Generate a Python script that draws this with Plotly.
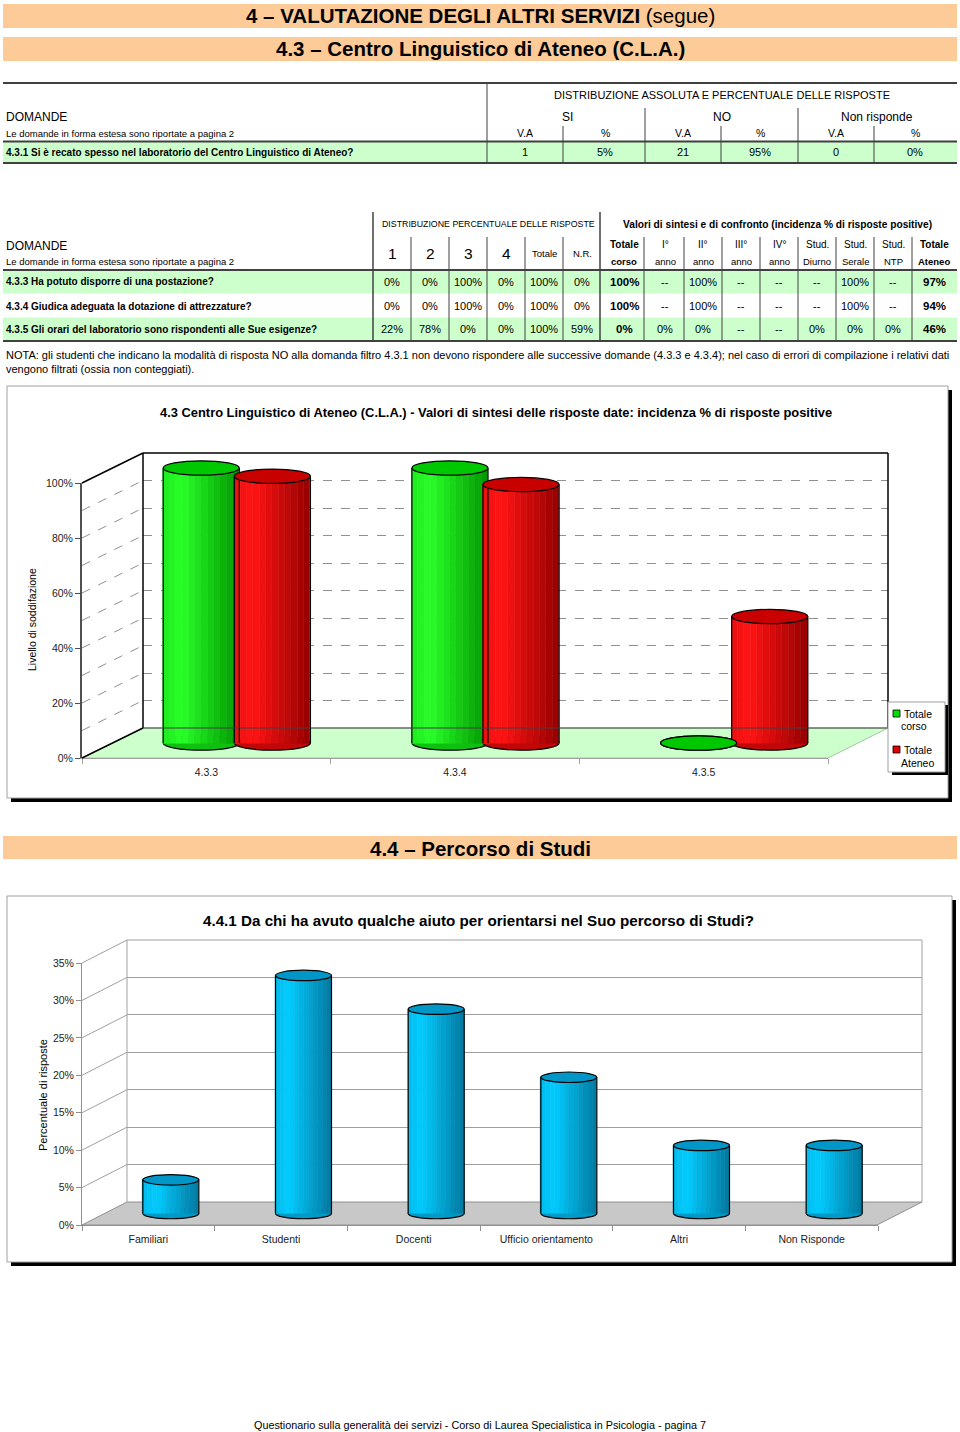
import plotly.graph_objects as go

W, H = 960, 1432
FONT = "Liberation Sans, Arial, sans-serif"

# ---------------- DATA ----------------
heading_1 = "4 – VALUTAZIONE DEGLI ALTRI SERVIZI"
heading_1_suffix = "(segue)"
heading_2 = "4.3 – Centro Linguistico di Ateneo (C.L.A.)"
heading_3 = "4.4 – Percorso di Studi"

t1_groups = ["SI", "NO", "Non risponde"]
t1_sub = ["V.A", "%", "V.A", "%", "V.A", "%"]
t1_question = "4.3.1 Si è recato spesso nel laboratorio del Centro Linguistico di Ateneo?"
t1_values = ["1", "5%", "21", "95%", "0", "0%"]

t2_questions = [
    "4.3.3 Ha potuto disporre di una postazione?",
    "4.3.4 Giudica adeguata la dotazione di attrezzature?",
    "4.3.5 Gli orari del laboratorio sono rispondenti alle Sue esigenze?",
]
t2_dist_headers = ["1", "2", "3", "4", "Totale", "N.R."]
t2_dist = [
    ["0%", "0%", "100%", "0%", "100%", "0%"],
    ["0%", "0%", "100%", "0%", "100%", "0%"],
    ["22%", "78%", "0%", "0%", "100%", "59%"],
]
t2_sint_headers = [("Totale", "corso"), ("I°", "anno"), ("II°", "anno"), ("III°", "anno"),
                   ("IV°", "anno"), ("Stud.", "Diurno"), ("Stud.", "Serale"), ("Stud.", "NTP"),
                   ("Totale", "Ateneo")]
t2_sint = [
    ["100%", "--", "100%", "--", "--", "--", "100%", "--", "97%"],
    ["100%", "--", "100%", "--", "--", "--", "100%", "--", "94%"],
    ["0%", "0%", "0%", "--", "--", "0%", "0%", "0%", "46%"],
]
note_lines = [
    "NOTA: gli studenti che indicano la modalità di risposta NO alla domanda filtro 4.3.1 non devono rispondere alle successive domande (4.3.3 e 4.3.4); nel caso di errori di compilazione i relativi dati",
    "vengono filtrati (ossia non conteggiati).",
]

c1_title = "4.3 Centro Linguistico di Ateneo (C.L.A.) - Valori di sintesi delle risposte date: incidenza % di risposte positive"
c1_ytitle = "Livello di soddifazione"
c1_categories = ["4.3.3", "4.3.4", "4.3.5"]
c1_series_names = ["Totale corso", "Totale Ateneo"]
c1_totale_corso = [100, 100, 0]
c1_totale_ateneo = [97, 94, 46]

c2_title = "4.4.1 Da chi ha avuto qualche aiuto per orientarsi nel Suo percorso di Studi?"
c2_ytitle = "Percentuale di risposte"
c2_categories = ["Familiari", "Studenti", "Docenti", "Ufficio orientamento", "Altri", "Non Risponde"]
c2_values = [4.5, 31.8, 27.3, 18.2, 9.1, 9.1]

footer = "Questionario sulla generalità dei servizi - Corso di Laurea Specialistica in Psicologia - pagina 7"

# ---------------- HELPERS ----------------
def px(x):
    return x / W


def py(y):
    return 1 - y / H


shapes = []
annotations = []


def line(x0, y0, x1, y1, color="#404040", width=1, dash=None, layer="above"):
    shapes.append(dict(type="line", xref="paper", yref="paper", x0=px(x0), y0=py(y0),
                       x1=px(x1), y1=py(y1), layer=layer,
                       line=dict(color=color, width=width, dash=dash)))


def rect(x0, y0, x1, y1, fill, lc="rgba(0,0,0,0)", lw=0, layer="below"):
    shapes.append(dict(type="rect", xref="paper", yref="paper", x0=px(x0), y0=py(y0),
                       x1=px(x1), y1=py(y1), fillcolor=fill, layer=layer,
                       line=dict(color=lc, width=lw)))


def poly(points, fill, lc="rgba(0,0,0,0)", lw=0, layer="below"):
    d = "M " + " L ".join(f"{px(x):.5f},{py(y):.5f}" for x, y in points) + " Z"
    shapes.append(dict(type="path", xref="paper", yref="paper", path=d, fillcolor=fill,
                       layer=layer, line=dict(color=lc, width=lw)))


def text(x, y, s, size=10, bold=False, anchor="center", color="black", angle=0):
    annotations.append(dict(x=px(x), y=py(y), xref="paper", yref="paper",
                            text=f"<b>{s}</b>" if bold else s, showarrow=False,
                            xanchor=anchor, yanchor="middle", textangle=angle,
                            font=dict(size=size, family=FONT, color=color)))


def lerp(c1, c2, s):
    s = max(0.0, min(1.0, s))
    return "rgb({},{},{})".format(*[int(round(a + (b - a) * s)) for a, b in zip(c1, c2)])


ORANGE = "#FCCB98"
LGREEN = "#CCFFCC"

# ---------------- HEADINGS ----------------
for (y0, y1) in [(4, 28), (37, 61), (836, 859)]:
    rect(3, y0, 957, y1, ORANGE)
text(480, 16, f"<b>{heading_1}</b> {heading_1_suffix}", size=20.5)
text(480, 49, heading_2, size=20.5, bold=True)
text(480, 848, heading_3, size=20.5, bold=True)

# ---------------- TABLE 1 ----------------
rect(3, 142, 957, 162, LGREEN)
line(3, 83, 957, 83, width=2)
line(3, 141.5, 957, 141.5, width=2)
line(3, 163, 957, 163, width=2)
line(487, 83, 487, 163)
for x in (645, 798):
    line(x, 108, x, 163)
for x in (563, 721, 874):
    line(x, 126, x, 163)
text(722, 95, "DISTRIBUZIONE ASSOLUTA E PERCENTUALE DELLE RISPOSTE", size=11)
for cx, g in zip((567, 722, 877), t1_groups):
    text(cx, 117, g, size=12)
t1_x = [525, 605, 683, 760, 836, 915]
for cx, s in zip(t1_x, t1_sub):
    text(cx, 133, s, size=10.5)
for cx, s in zip(t1_x, t1_values):
    text(cx, 152, s, size=11)
text(4, 117, "DOMANDE", size=12, anchor="left")
text(4, 133, "Le domande in forma estesa sono riportate a pagina 2", size=9.5, anchor="left")
text(4, 152, t1_question, size=10, bold=True, anchor="left")

# ---------------- TABLE 2 ----------------
row_y = [282, 306, 329]
rect(3, 271, 957, 293.5, LGREEN)
rect(3, 317.5, 957, 340, LGREEN)
line(3, 270, 957, 270, width=2)
line(3, 341, 957, 341, width=2)
line(373, 212, 373, 341, width=1.5)
line(600, 212, 600, 341, width=1.5)
for x in (411, 449, 487, 525, 563, 644, 684, 722, 760, 798, 836, 874, 912):
    line(x, 237, x, 341)
text(488, 224, "DISTRIBUZIONE PERCENTUALE DELLE RISPOSTE", size=8.8)
text(777, 224, "Valori di sintesi e di confronto (incidenza % di risposte positive)", size=10.2, bold=True)
text(4, 246, "DOMANDE", size=12, anchor="left")
text(4, 262, "Le domande in forma estesa sono riportate a pagina 2", size=9.5, anchor="left")
dist_x = [392, 430, 468, 506, 544, 582]
for i, (cx, h) in enumerate(zip(dist_x, t2_dist_headers)):
    text(cx, 253, h, size=15.5 if i < 4 else 9.5)
sint_x = [624, 665, 703, 741, 779, 817, 855, 893, 934]
for i, (cx, (a, b)) in enumerate(zip(sint_x, t2_sint_headers)):
    bold = i in (0, 8)
    text(cx, 245, a, size=10, bold=bold)
    text(cx, 262, b, size=9.5, bold=bold)
for r, yy in enumerate(row_y):
    text(4, yy, t2_questions[r], size=10, bold=True, anchor="left")
    for cx, s in zip(dist_x, t2_dist[r]):
        text(cx, yy, s, size=11)
    for i, (cx, s) in enumerate(zip(sint_x, t2_sint[r])):
        text(cx, yy, s, size=11.5 if i in (0, 8) else 11, bold=i in (0, 8))

text(4, 355, note_lines[0], size=11, anchor="left")
text(4, 369, note_lines[1], size=11, anchor="left")

# ---------------- CHART BOXES ----------------
rect(11, 390, 952, 802, "#000000")
rect(7, 386, 948, 798, "white", lc="#A0A0A0", lw=1)
rect(11, 900, 956, 1266, "#000000")
rect(7, 896, 952, 1262, "white", lc="#A0A0A0", lw=1)

poly([(82, 758), (828, 758), (888, 728), (143, 728)], LGREEN, lc="#A0C8A0", lw=1)
poly([(82, 1225), (877, 1225), (922, 1202), (127, 1202)], "#C8C8C8", lc="#909090", lw=1)

c1_pxu = 2.75
for v in range(10, 100, 10):
    line(82, 758 - c1_pxu * v, 143, 728 - c1_pxu * v, color="#909090", width=1, dash="dash", layer="below")
line(82, 483, 143, 453, color="black", width=1.5)
line(82, 758, 143, 728, color="black", width=1.5)
line(143, 453, 888, 453, color="black", width=1.5)
line(143, 453, 143, 728, color="black", width=1.5)
line(888, 453, 888, 728, color="black", width=1.5)
line(143, 728, 888, 728, color="#404040", width=1)

c2_pxu = 262 / 35
for v in range(5, 40, 5):
    line(82, 1225 - c2_pxu * v, 127, 1202 - c2_pxu * v, color="#A0A0A0", width=1, layer="below")
line(127, 940, 922, 940, color="#A0A0A0", width=1, layer="below")
line(127, 940, 127, 1202, color="#A0A0A0", width=1, layer="below")
line(922, 940, 922, 1202, color="#A0A0A0", width=1, layer="below")

# legend chart 1
rect(892, 705, 948, 775, "#000000", layer="above")
rect(888, 702, 945, 772, "white", lc="#A0A0A0", lw=1, layer="above")
rect(893, 710, 900, 717, "#00E000", lc="black", lw=0.8, layer="above")
rect(893, 746, 900, 753, "#E00000", lc="black", lw=0.8, layer="above")
text(902, 714, "Totale", size=10.5, anchor="left")
text(914, 726, "corso", size=10.5)
text(902, 750, "Totale", size=10.5, anchor="left")
text(917, 763, "Ateneo", size=10.5)

text(496, 412, c1_title, size=12.9, bold=True)
text(478, 920, c2_title, size=15.2, bold=True)
text(32, 620, c1_ytitle, size=10.5, angle=-90)
text(43, 1095, c2_ytitle, size=11, angle=-90)
text(480, 1425, footer, size=10.8)

# ---------------- TRACES ----------------
traces = []


def dummy(xa, ya, xs):
    traces.append(go.Scatter(x=xs, y=[None] * len(xs), xaxis=xa, yaxis=ya, mode="markers",
                             showlegend=False, hoverinfo="skip"))


def cylinder(xs, vals, off0, w, light, dark, top, xa, ya, ehalf, nstripes=12):
    sw = w / nstripes
    for i in range(nstripes):
        t = (i + 0.5) / nstripes
        s = 0.2 * (0.25 - t) / 0.25 if t < 0.25 else (t - 0.25) / 0.75
        col = lerp(light, dark, s)
        traces.append(go.Bar(x=xs, y=vals, offset=off0 + i * sw, width=sw, xaxis=xa, yaxis=ya,
                             marker=dict(color=col, line=dict(color=col, width=0.6)),
                             showlegend=False, hoverinfo="skip"))
    ex, ey = [], []
    for x, v in zip(xs, vals):
        for e in (x + off0, x + off0 + w):
            ex += [e, e, None]
            ey += [0, v, None]
    traces.append(go.Scatter(x=ex, y=ey, xaxis=xa, yaxis=ya, mode="lines",
                             line=dict(color="black", width=1.2), showlegend=False, hoverinfo="skip"))
    for x, v in zip(xs, vals):
        shapes.append(dict(type="circle", xref=xa, yref=ya, x0=x + off0, x1=x + off0 + w,
                           y0=-ehalf, y1=ehalf, fillcolor=lerp(light, dark, 0.6), layer="below",
                           line=dict(color="black", width=1.2)))
        shapes.append(dict(type="circle", xref=xa, yref=ya, x0=x + off0, x1=x + off0 + w,
                           y0=v - ehalf, y1=v + ehalf, fillcolor=top, layer="above",
                           line=dict(color="black", width=1.2)))


dummy("x", "y", [0])
c1_x = list(range(len(c1_categories)))
cylinder(c1_x, c1_totale_corso, -0.294, 0.306, (40, 255, 40), (0, 150, 0), "#00C800", "x2", "y2", 2.6)
cylinder(c1_x, c1_totale_ateneo, -0.008, 0.306, (255, 20, 20), (150, 0, 0), "#C80000", "x2", "y2", 2.6)
dummy("x3", "y3", c1_categories)

dummy("x4", "y4", [0])
c2_x = list(range(len(c2_categories)))
cylinder(c2_x, c2_values, -0.211, 0.422, (0, 204, 255), (0, 120, 160), "#0096C8", "x5", "y5", 0.7)
dummy("x6", "y6", c2_categories)

fig = go.Figure(traces)

hidden = dict(visible=False, fixedrange=True, automargin=False)
tickfont = dict(size=10.5, family=FONT, color="#222")

fig.update_layout(
    width=W, height=H, autosize=False,
    margin=dict(l=0, r=0, t=0, b=0, pad=0, autoexpand=False),
    paper_bgcolor="white", plot_bgcolor="rgba(0,0,0,0)",
    showlegend=False, barmode="overlay", bargap=0,
    shapes=shapes, annotations=annotations,
    xaxis=dict(hidden, domain=[px(143), px(888)], range=[0, 1], anchor="y"),
    yaxis=dict(domain=[py(728), py(453)], range=[0, 100], dtick=10, anchor="x", automargin=False,
               showgrid=True, gridcolor="#909090", griddash="dash", gridwidth=1,
               showticklabels=False, ticks="", zeroline=False, showline=False, fixedrange=True),
    xaxis2=dict(hidden, domain=[px(112), px(858)], range=[-0.5, 2.5], anchor="y2"),
    yaxis2=dict(hidden, domain=[py(743 + 10 * c1_pxu), py(743 - 110 * c1_pxu)], range=[-10, 110], anchor="x2"),
    xaxis3=dict(domain=[px(82), px(828)], type="category", categoryarray=c1_categories,
                range=[-0.5, 2.5], anchor="y3", showgrid=False, zeroline=False, automargin=False,
                showline=True, linecolor="#A0A0A0", linewidth=1, ticks="outside", ticklen=5,
                tickcolor="#A0A0A0", tickson="boundaries", tickfont=tickfont, ticklabelstandoff=4,
                fixedrange=True),
    yaxis3=dict(domain=[py(758), py(483)], range=[0, 100], dtick=20, ticksuffix="%", anchor="x3",
                showgrid=False, zeroline=False, showline=True, linecolor="#505050", linewidth=2,
                automargin=False,
                ticks="outside", ticklen=5, tickcolor="#505050", tickfont=tickfont, fixedrange=True),
    xaxis4=dict(hidden, domain=[px(127), px(922)], range=[0, 1], anchor="y4"),
    yaxis4=dict(domain=[py(1202), py(940)], range=[0, 35], dtick=5, anchor="x4", automargin=False,
                showgrid=True, gridcolor="#A0A0A0", gridwidth=1,
                showticklabels=False, ticks="", zeroline=False, showline=False, fixedrange=True),
    xaxis5=dict(hidden, domain=[px(104.5), px(900.5)], range=[-0.5, 5.5], anchor="y5"),
    yaxis5=dict(hidden, domain=[py(1213.5 + 2 * c2_pxu), py(1213.5 - 37 * c2_pxu)], range=[-2, 37], anchor="x5"),
    xaxis6=dict(domain=[px(82), px(878)], type="category", categoryarray=c2_categories,
                range=[-0.5, 5.5], anchor="y6", showgrid=False, zeroline=False, automargin=False,
                showline=True, linecolor="#909090", linewidth=1, ticks="outside", ticklen=5,
                tickcolor="#909090", tickson="boundaries", tickfont=tickfont, ticklabelstandoff=4,
                fixedrange=True),
    yaxis6=dict(domain=[py(1225), py(963)], range=[0, 35], dtick=5, ticksuffix="%", anchor="x6",
                showgrid=False, zeroline=False, showline=True, linecolor="#909090", linewidth=1,
                automargin=False,
                ticks="outside", ticklen=5, tickcolor="#909090", tickfont=tickfont, fixedrange=True),
)

fig.write_html(
    "out.html",
    config={"displayModeBar": False},
    post_script=(
        "document.documentElement.style.margin='0px';"
        "document.documentElement.style.overflow='hidden';"
        "document.body.style.margin='0px';document.body.style.padding='0px';"
        "document.body.style.overflow='hidden';"
        "var gd=document.getElementById('{plot_id}');"
        "gd.style.position='fixed';gd.style.left='0px';gd.style.top='0px';"
    ),
)
